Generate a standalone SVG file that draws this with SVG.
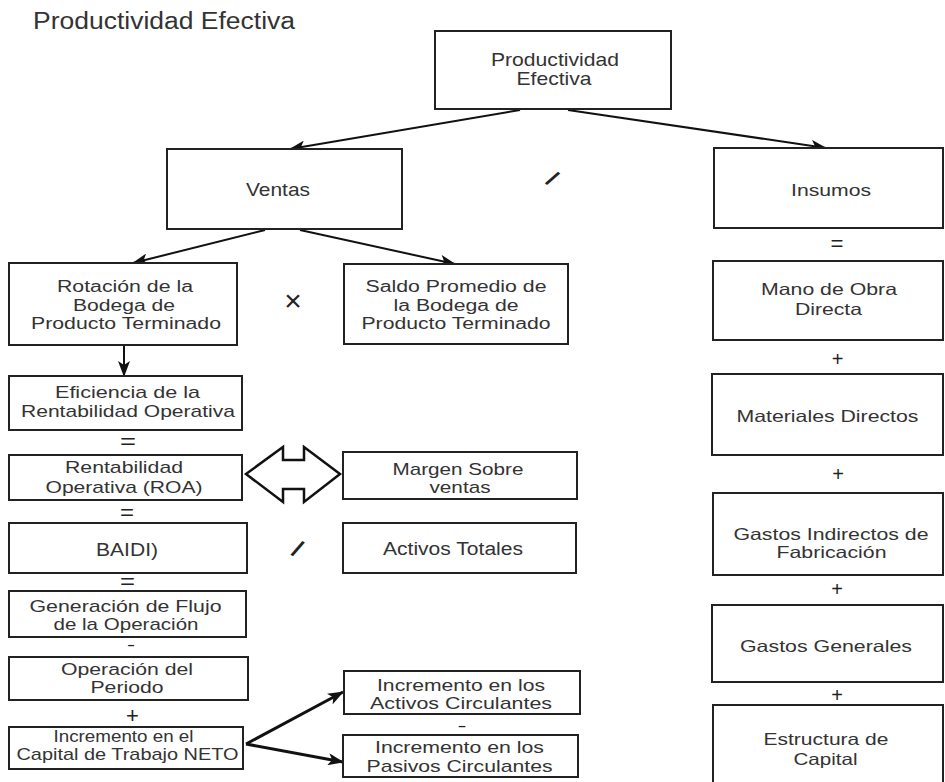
<svg xmlns="http://www.w3.org/2000/svg" width="945" height="782" viewBox="0 0 945 782">
<defs>
<style>
.box{fill:#fff;stroke:#222;stroke-width:2}
.t{font-family:"Liberation Sans",Arial,sans-serif;font-size:17px;fill:#333;text-anchor:middle}
.r{font-size:16.5px}
.s{font-size:16px}
.op{font-family:"Liberation Sans",Arial,sans-serif;font-size:22px;fill:#222;text-anchor:middle}
.c{stroke:#111;stroke-width:2;fill:none;marker-end:url(#ah)}
.c3{stroke:#111;stroke-width:3;fill:none;marker-end:url(#ah)}
</style>
<marker id="ah" markerUnits="userSpaceOnUse" markerWidth="16" markerHeight="12" viewBox="0 0 16 12" refX="15" refY="6" orient="auto">
<path d="M0,0 L16,6 L0,12 L4,6 z" fill="#111"/>
</marker>
</defs>
<rect width="945" height="782" fill="#fff"/>
<text class="t" x="164" y="29" style="font-size:23px" textLength="262" lengthAdjust="spacingAndGlyphs">Productividad Efectiva</text>

<g id="connectors">
<line class="c" x1="520" y1="110" x2="290" y2="149"/>
<line class="c" x1="568" y1="110" x2="826" y2="148"/>
<line class="c" x1="265" y1="230" x2="133" y2="263"/>
<line class="c" x1="300" y1="230" x2="455" y2="264"/>
<line class="c" x1="124" y1="345" x2="124" y2="376"/>
<line class="c3" x1="246" y1="744" x2="343" y2="692"/>
<line class="c3" x1="246" y1="744" x2="343" y2="762"/>
<polygon points="246,474 283,447 283,460 304,460 304,447 340,474 304,502 304,489 283,489 283,502" fill="#fff" stroke="#111" stroke-width="2.5" stroke-linejoin="miter"/>
</g>

<g id="n-top">
<rect class="box" x="435" y="31" width="236" height="78"/>
<text class="t" x="555" y="66" style="font-size:19px" textLength="128" lengthAdjust="spacingAndGlyphs">Productividad</text>
<text class="t" x="554" y="85" style="font-size:19px" textLength="75" lengthAdjust="spacingAndGlyphs">Efectiva</text>
</g>
<g id="n-ventas">
<rect class="box" x="167" y="149" width="235" height="80"/>
<text class="t" x="278" y="196" style="font-size:19px" textLength="64" lengthAdjust="spacingAndGlyphs">Ventas</text>
</g>
<g id="n-insumos">
<rect class="box" x="714" y="148" width="229" height="80"/>
<text class="t r" x="831" y="196" textLength="80" lengthAdjust="spacingAndGlyphs">Insumos</text>
</g>
<text class="op" transform="translate(552.5,178.5) rotate(38)" x="0" y="8" style="font-weight:bold;font-size:23px">/</text>

<g id="n-rotacion">
<rect class="box" x="9" y="263" width="228" height="82"/>
<text class="t s" x="125" y="292" textLength="136" lengthAdjust="spacingAndGlyphs">Rotación de la</text>
<text class="t s" x="124" y="310.5" textLength="102" lengthAdjust="spacingAndGlyphs">Bodega de</text>
<text class="t s" x="126" y="329" textLength="190" lengthAdjust="spacingAndGlyphs">Producto Terminado</text>
</g>
<text class="op" x="293" y="311" style="font-size:30px">×</text>
<g id="n-saldo">
<rect class="box" x="344" y="264" width="224" height="80"/>
<text class="t s" x="456" y="292" textLength="181" lengthAdjust="spacingAndGlyphs">Saldo Promedio de</text>
<text class="t s" x="456" y="310.5" textLength="125" lengthAdjust="spacingAndGlyphs">la Bodega de</text>
<text class="t s" x="456" y="329" textLength="189" lengthAdjust="spacingAndGlyphs">Producto Terminado</text>
</g>

<g id="n-eficiencia">
<rect class="box" x="9" y="376" width="233" height="54"/>
<text class="t" x="127.5" y="398" textLength="145" lengthAdjust="spacingAndGlyphs">Eficiencia de la</text>
<text class="t" x="128" y="417" textLength="214" lengthAdjust="spacingAndGlyphs">Rentabilidad Operativa</text>
</g>
<text class="op" x="128" y="449" textLength="16" lengthAdjust="spacingAndGlyphs">=</text>

<g id="n-roa">
<rect class="box" x="9" y="455" width="233" height="45"/>
<text class="t" x="124" y="473" textLength="118" lengthAdjust="spacingAndGlyphs">Rentabilidad</text>
<text class="t" x="124" y="493" textLength="157" lengthAdjust="spacingAndGlyphs">Operativa (ROA)</text>
</g>
<g id="n-margen">
<rect class="box" x="343" y="452" width="234" height="47"/>
<text class="t" x="458" y="475" textLength="131" lengthAdjust="spacingAndGlyphs">Margen Sobre</text>
<text class="t" x="460" y="493" textLength="61" lengthAdjust="spacingAndGlyphs">ventas</text>
</g>
<text class="op" x="127" y="520" textLength="14" lengthAdjust="spacingAndGlyphs">=</text>

<g id="n-baidi">
<rect class="box" x="9" y="523" width="238" height="50"/>
<text class="t" x="127" y="556" style="font-size:18px" textLength="62" lengthAdjust="spacingAndGlyphs">BAIDI)</text>
</g>
<text class="op" transform="translate(297.5,549) rotate(30)" x="0" y="8" style="font-weight:bold;font-size:24px">/</text>
<g id="n-activos-totales">
<rect class="box" x="343" y="523" width="233" height="50"/>
<text class="t" x="453" y="555" style="font-size:18px" textLength="140" lengthAdjust="spacingAndGlyphs">Activos Totales</text>
</g>
<text class="op" x="127.5" y="589" textLength="15" lengthAdjust="spacingAndGlyphs">=</text>

<g id="n-generacion">
<rect class="box" x="9" y="591" width="237" height="46"/>
<text class="t" x="125.5" y="612" textLength="192" lengthAdjust="spacingAndGlyphs">Generación de Flujo</text>
<text class="t" x="126" y="630" textLength="145" lengthAdjust="spacingAndGlyphs">de la Operación</text>
</g>
<text class="op" x="131" y="650" style="font-size:16px" textLength="8" lengthAdjust="spacingAndGlyphs">-</text>

<g id="n-operacion">
<rect class="box" x="9" y="657" width="239" height="43"/>
<text class="t s" x="127" y="674.5" textLength="132" lengthAdjust="spacingAndGlyphs">Operación del</text>
<text class="t s" x="127" y="693" textLength="73" lengthAdjust="spacingAndGlyphs">Periodo</text>
</g>
<text class="op" x="132.5" y="722.5">+</text>

<g id="n-incremento-neto">
<rect class="box" x="9" y="727" width="234" height="42"/>
<text class="t" x="123.5" y="742" textLength="140" lengthAdjust="spacingAndGlyphs">Incremento en el</text>
<text class="t" x="127.5" y="760" textLength="222" lengthAdjust="spacingAndGlyphs">Capital de Trabajo NETO</text>
</g>

<g id="n-activos-circ">
<rect class="box" x="344" y="671" width="236" height="43"/>
<text class="t" x="461" y="691" textLength="168" lengthAdjust="spacingAndGlyphs">Incremento en los</text>
<text class="t" x="461" y="709" textLength="182" lengthAdjust="spacingAndGlyphs">Activos Circulantes</text>
</g>
<text class="op" x="462" y="731" style="font-size:16px" textLength="9" lengthAdjust="spacingAndGlyphs">-</text>
<g id="n-pasivos-circ">
<rect class="box" x="343" y="735" width="235" height="42"/>
<text class="t" x="459.5" y="753" textLength="169" lengthAdjust="spacingAndGlyphs">Incremento en los</text>
<text class="t" x="459.5" y="771.5" textLength="186" lengthAdjust="spacingAndGlyphs">Pasivos Circulantes</text>
</g>

<text class="op" x="837" y="251" textLength="13" lengthAdjust="spacingAndGlyphs">=</text>
<g id="n-mano">
<rect class="box" x="713" y="261" width="230" height="79"/>
<text class="t r" x="829" y="295" textLength="136" lengthAdjust="spacingAndGlyphs">Mano de Obra</text>
<text class="t r" x="828.5" y="315" textLength="67" lengthAdjust="spacingAndGlyphs">Directa</text>
</g>
<text class="op" x="837.5" y="366" style="font-size:20px">+</text>
<g id="n-materiales">
<rect class="box" x="712" y="374" width="231" height="81"/>
<text class="t r" x="827.5" y="422" textLength="182" lengthAdjust="spacingAndGlyphs">Materiales Directos</text>
</g>
<text class="op" x="838" y="481" style="font-size:20px">+</text>
<g id="n-gastos-ind">
<rect class="box" x="713" y="493" width="230" height="82"/>
<text class="t r" x="831" y="540" textLength="195" lengthAdjust="spacingAndGlyphs">Gastos Indirectos de</text>
<text class="t r" x="831.5" y="558" textLength="110" lengthAdjust="spacingAndGlyphs">Fabricación</text>
</g>
<text class="op" x="837" y="596" style="font-size:20px">+</text>
<g id="n-gastos-gen">
<rect class="box" x="712" y="605" width="231" height="77"/>
<text class="t r" x="826" y="652" textLength="172" lengthAdjust="spacingAndGlyphs">Gastos Generales</text>
</g>
<text class="op" x="837" y="702" style="font-size:20px">+</text>
<g id="n-estructura">
<rect class="box" x="713" y="705" width="230" height="80"/>
<text class="t r" x="826" y="745" textLength="125" lengthAdjust="spacingAndGlyphs">Estructura de</text>
<text class="t r" x="825.5" y="765" textLength="64" lengthAdjust="spacingAndGlyphs">Capital</text>
</g>
</svg>
